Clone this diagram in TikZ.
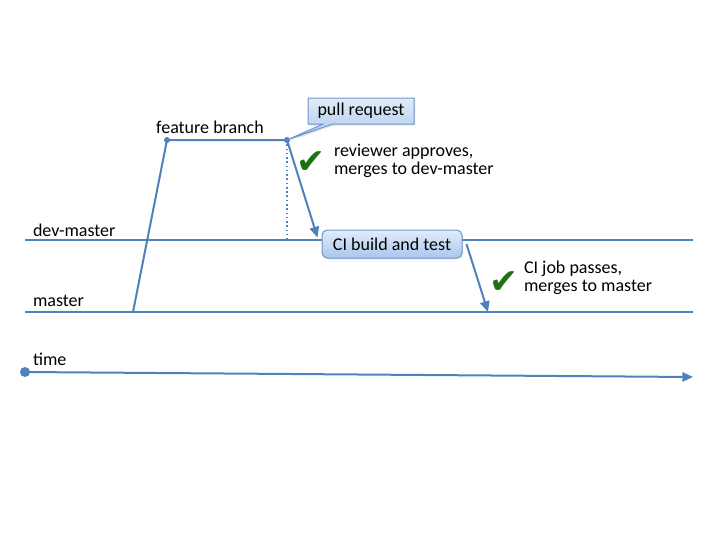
\documentclass[tikz,border=0pt]{standalone}
\usepackage{fontspec}
\setmainfont{Carlito}
\newfontfamily\checkfont{DejaVu Sans}
\usetikzlibrary{arrows.meta,shapes.callouts,shadows}

\definecolor{lineblue}{RGB}{79,129,189}
\definecolor{boxedge}{RGB}{110,150,205}
\definecolor{boxtop}{RGB}{226,236,250}
\definecolor{boxbottom}{RGB}{170,199,236}
\definecolor{checkgreen}{RGB}{30,112,20}

\tikzset{every picture/.style={line width=1.5pt}}
\tikzset{
  branch/.style={draw=lineblue, line width=1.5pt},
  tip/.style={-{Triangle[length=8pt,width=7pt]}},
  knot/.style={circle, fill=lineblue, inner sep=0pt, minimum size=4.5pt},
  lbl/.style={font=\fontsize{13.5}{13.5}\selectfont, inner sep=0pt, align=left},
  tick/.style={font=\checkfont\fontsize{26}{26}\selectfont, text=checkgreen, inner sep=0pt},
  bluebox/.style={draw=boxedge, line width=0.75pt, top color=boxtop, bottom color=boxbottom,
    font=\fontsize{13.5}{13.5}\selectfont, inner sep=0pt,
    drop shadow={opacity=0.2, shadow xshift=1pt, shadow yshift=-1.2pt}}
}

\begin{document}
\begin{tikzpicture}[x=0.75pt,y=0.75pt,yscale=-1,xscale=1]
\useasboundingbox (0,0) rectangle (720,540);

%Straight Lines : dev-master, master
\coordinate (dm0) at (25,240);
\coordinate (dm1) at (693,240);
\coordinate (ms0) at (25,312);
\coordinate (ms1) at (693,312);
\draw [branch] (dm0) -- (dm1);
\draw [branch] (ms0) -- (ms1);

%Straight Lines : time
\node [knot, minimum size=7.5pt] (t0) at (25,372) {};
\coordinate (t1) at (693,377);
\draw [branch, tip] (t0.center) -- (t1);

%Feature branch
\coordinate (fb0) at (133,312);
\node [knot] (fb1) at (167,140) {};
\node [knot] (fb2) at (287,140) {};
\draw [branch] (fb0) -- (fb1.center) -- (fb2.center);
\coordinate (fbdrop) at (287,240);
\draw [branch, line width=1.2pt, dotted] (fb2.center) -- (fbdrop);

%Shape: Callout
\node [bluebox, rectangle callout, callout absolute pointer={(fb2.center)},
  minimum width=79.5pt, minimum height=19.5pt] (pr) at (361,111) {pull request};

%Shape: Rounded Rectangle
\node [bluebox, rounded corners=4pt, minimum width=105pt, minimum height=21pt] (ci) at (392,244) {CI build and test};

%Straight Lines : merges
\coordinate (ms2) at (488,312);
\draw [branch, tip] (fb2.center) -- ([shift={(-4,8)}]ci.north west);
\draw [branch, tip] ([xshift=3]ci.east) -- (ms2);

% Text Node
\node [lbl, anchor=west] (ldm) at (32,230) {dev-master};
% Text Node
\node [lbl, anchor=west] (lms) at (32,301) {master};
% Text Node
\node [lbl, anchor=west] (ltm) at (32,359) {time};
% Text Node
\node [lbl] (lfb) at (210,127.5) {feature branch};
% Text Node
\node [tick] (ck1) at (311,163) {✔};
\node [lbl, anchor=west] (lrv) at (333,161) {reviewer approves,\\merges to dev-master};
% Text Node
\node [tick] (ck2) at (504,283) {✔};
\node [lbl, anchor=west] (lci) at (523,278) {CI job passes,\\merges to master};

\end{tikzpicture}
\end{document}
